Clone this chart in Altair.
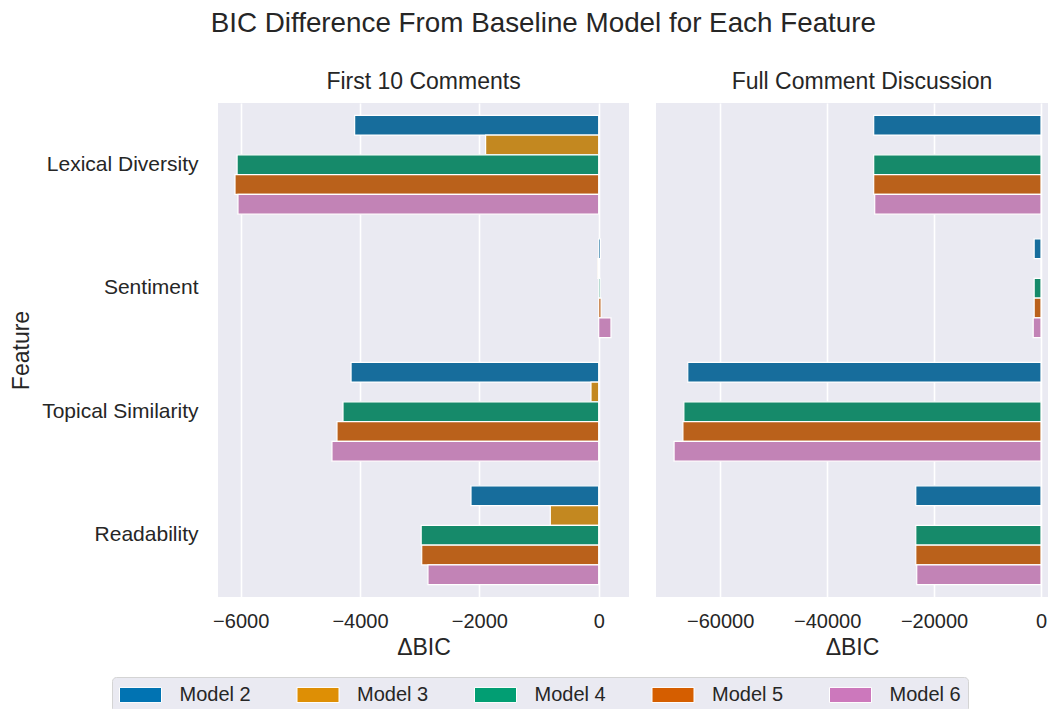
import altair as alt
import pandas as pd

features = ["Lexical Diversity", "Sentiment", "Topical Similarity", "Readability"]
models = ["Model 2", "Model 3", "Model 4", "Model 5", "Model 6"]

# First 10 Comments (values per model, order = models)
first10_lexical = [-4090, -1895, -6060, -6095, -6045]
first10_sentiment = [30, -15, 25, 40, 206]
first10_topical = [-4150, -129, -4285, -4386, -4470]
first10_readability = [-2140, -811, -2975, -2966, -2861]

# Full Comment Discussion
full_lexical = [-31290, 0, -31290, -31290, -31100]
full_sentiment = [-1280, 0, -1280, -1280, -1460]
full_topical = [-66060, 0, -66790, -66970, -68620]
full_readability = [-23420, 0, -23420, -23420, -23240]

left_ticks = [-6000, -4000, -2000, 0]
right_ticks = [-60000, -40000, -20000, 0]

legend_colors = ["#0173b2", "#de8f05", "#029e73", "#d55e00", "#cc78bc"]
bar_colors = ["#176d9c", "#c38820", "#168a6a", "#ba611b", "#c283b6"]

TEXT = "#262626"
FONT = "Liberation Sans"


def build_df(rows):
    recs = []
    for feat, vals in zip(features, rows):
        for m, v in zip(models, vals):
            recs.append({"feature": feat, "model": m, "value": v})
    return pd.DataFrame(recs)


df_first = build_df([first10_lexical, first10_sentiment, first10_topical, first10_readability])
df_full = build_df([full_lexical, full_sentiment, full_topical, full_readability])


def panel(df, domain, ticks, width, title, title_dx, show_y, with_legend):
    x = alt.X(
        "value:Q",
        scale=alt.Scale(domain=domain, nice=False),
        axis=alt.Axis(
            values=ticks, format="d", title="ΔBIC", grid=True, gridColor="white",
            gridWidth=1.6, ticks=False, domain=False, labelFontSize=20,
            labelPadding=14, titleFontSize=23, titlePadding=5,
            labelColor=TEXT, titleColor=TEXT, titleFontWeight="normal",
        ),
    )
    if show_y:
        yaxis = alt.Axis(
            title="Feature", labelFontSize=21, titleFontSize=23, ticks=False,
            domain=False, grid=False, labelPadding=20, titlePadding=8,
            labelColor=TEXT, titleColor=TEXT, titleFontWeight="normal",
        )
    else:
        yaxis = None
    y = alt.Y(
        "feature:N", sort=features,
        scale=alt.Scale(paddingInner=0.2, paddingOuter=0.1),
        axis=yaxis,
    )
    yoff = alt.YOffset("model:N", sort=models, scale=alt.Scale(paddingInner=0, paddingOuter=0))
    bars = alt.Chart(df).mark_bar(stroke="white", strokeWidth=1.2).encode(
        x=x,
        x2=alt.datum(0),
        y=y,
        yOffset=yoff,
        fill=alt.Fill("model:N", scale=alt.Scale(domain=models, range=bar_colors), legend=None),
    )
    layers = [bars]
    if with_legend:
        leg = alt.Chart(df).mark_point(filled=True, opacity=0, shape="square").encode(
            x=alt.X("value:Q"),
            y=alt.Y("feature:N", sort=features),
            color=alt.Color(
                "model:N",
                scale=alt.Scale(domain=models, range=legend_colors),
                legend=alt.Legend(
                    title=None, orient="none", legendX=-106, legendY=574,
                    direction="horizontal", columns=5,
                    symbolType="M-2,-0.72L2,-0.72L2,0.72L-2,0.72Z", symbolSize=441,
                    symbolOffset=10.5,
                    symbolStrokeColor="white", symbolStrokeWidth=1, symbolOpacity=1,
                    labelFontSize=20, labelOffset=28, columnPadding=43.5, padding=7,
                    fillColor="#eaeaf2", strokeColor="#d4d4d4", cornerRadius=4,
                    labelColor=TEXT, labelFont=FONT, labelLimit=200,
                ),
            ),
        )
        layers.append(leg)
    return alt.layer(*layers).properties(
        width=width, height=494,
        title=alt.TitleParams(title, fontSize=23, fontWeight="normal", frame="group",
                              anchor="middle", offset=9, dx=title_dx, color=TEXT, font=FONT),
    )


left = panel(df_first, [-6380, 508], left_ticks, 411, "First 10 Comments", 0, True, True)
right = panel(df_full, [-72000, 1309], right_ticks, 392, "Full Comment Discussion", 10, False, False)

chart = alt.hconcat(left, right, spacing=27, bounds="flush").properties(
    title=alt.TitleParams(
        "BIC Difference From Baseline Model for Each Feature",
        fontSize=27.8, fontWeight="normal", anchor="middle", color=TEXT, font=FONT,
        offset=33, dx=14,
    )
).resolve_legend(color="independent").configure(
    font=FONT, padding={"left": 2, "top": 2, "right": 0, "bottom": 0}
).configure_view(fill="#eaeaf2", stroke=None)

chart.save("out.html", embed_options={"renderer": "svg", "actions": False})
